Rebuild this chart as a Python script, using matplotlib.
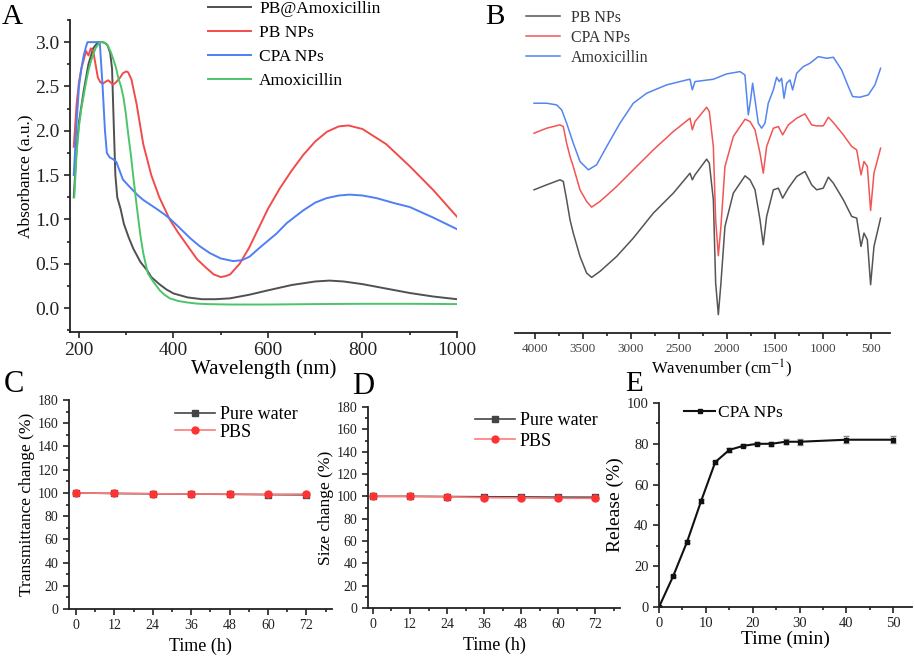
import matplotlib
matplotlib.use("Agg")
import matplotlib.pyplot as plt
from matplotlib.ticker import MultipleLocator

plt.rcParams['font.family'] = ['Liberation Serif', 'DejaVu Serif']
plt.rcParams['mathtext.fontset'] = 'stix'

# ---- A: UV-vis absorbance ----
wl_pbamox = [189, 195, 200, 210, 220, 230, 240, 250, 255, 260, 266, 270, 274, 277, 281, 288, 295, 305, 315, 330,
             345, 353, 370, 385, 400, 430, 460, 490, 520, 560, 600, 650, 700, 730, 760, 800, 850, 900, 950, 1000]
abs_pbamox = [1.25, 1.8, 2.1, 2.45, 2.75, 2.93, 3.0, 3.0, 2.99, 2.97, 2.88, 2.7, 2.0, 1.5, 1.25, 1.12, 0.95, 0.8, 0.67, 0.52,
              0.42, 0.35, 0.27, 0.21, 0.165, 0.12, 0.1, 0.1, 0.11, 0.15, 0.2, 0.26, 0.3, 0.31, 0.3, 0.27, 0.22, 0.17, 0.13, 0.1]

wl_pb = [189, 195, 200, 205, 210, 215, 220, 225, 230, 235, 240, 245, 250, 255, 262, 268, 272, 279, 287, 293,
         300, 304, 311, 322, 336, 353, 370, 392, 410, 430, 450, 470, 485, 500, 510, 520, 540, 560, 580, 600,
         625, 650, 675, 700, 725, 750, 770, 800, 850, 900, 950, 1000]
abs_pb = [1.82, 2.3, 2.55, 2.7, 2.8, 2.9, 2.85, 2.93, 2.9, 2.75, 2.6, 2.55, 2.53, 2.55, 2.57, 2.54, 2.52, 2.55, 2.6, 2.65,
          2.67, 2.66, 2.58, 2.3, 1.85, 1.5, 1.25, 1.0, 0.85, 0.7, 0.55, 0.45, 0.38, 0.35, 0.36, 0.38, 0.5, 0.68, 0.9, 1.12,
          1.35, 1.55, 1.73, 1.88, 1.99, 2.05, 2.06, 2.02, 1.85, 1.6, 1.33, 1.03]

wl_cpa = [189, 195, 200, 205, 210, 215, 218, 230, 244, 250, 255, 259, 265, 272, 279, 286, 293, 305, 314, 325,
          336, 350, 364, 380, 392, 410, 435, 455, 477, 500, 526, 545, 561, 580, 600, 618, 640, 674, 700, 724,
          750, 773, 800, 830, 870, 900, 950, 1000]
abs_cpa = [1.5, 2.1, 2.5, 2.7, 2.85, 2.95, 3.0, 3.0, 3.0, 2.5, 2.0, 1.75, 1.7, 1.68, 1.65, 1.55, 1.45, 1.38, 1.33, 1.27,
           1.22, 1.17, 1.12, 1.06, 1.01, 0.92, 0.79, 0.7, 0.62, 0.56, 0.53, 0.54, 0.58, 0.67, 0.76, 0.84, 0.96, 1.1, 1.19, 1.24,
           1.27, 1.28, 1.27, 1.24, 1.18, 1.14, 1.02, 0.89]

wl_amox = [190, 195, 200, 205, 210, 215, 220, 225, 230, 235, 240, 245, 250, 256, 262, 268, 273, 278, 283, 289,
           294, 299, 304, 310, 315, 320, 325, 330, 336, 341, 346, 352, 357, 364, 371, 381, 392, 410, 428, 450,
           470, 520, 600, 700, 800, 900, 1000]
abs_amox = [1.25, 1.75, 2.05, 2.25, 2.4, 2.55, 2.68, 2.78, 2.86, 2.93, 2.97, 3.0, 3.0, 2.99, 2.95, 2.88, 2.8, 2.72, 2.6, 2.5,
            2.38, 2.2, 1.97, 1.72, 1.48, 1.25, 1.03, 0.82, 0.62, 0.5, 0.39, 0.34, 0.3, 0.25, 0.2, 0.15, 0.11, 0.08, 0.064, 0.05,
            0.045, 0.04, 0.04, 0.045, 0.048, 0.048, 0.045]

# ---- B: FTIR (offset transmittance, a.u.) ----
wn_pb = [4010, 3878, 3740, 3705, 3670, 3635, 3601, 3531, 3462, 3410, 3323, 3149, 2976, 2767, 2559, 2385, 2361, 2333, 2212, 2184,
         2142, 2118, 2090, 2063, 2021, 1934, 1812, 1760, 1708, 1656, 1622, 1587, 1517, 1465, 1420, 1361, 1274, 1188, 1118, 1066,
         997, 944, 892, 788, 701, 649, 604, 573, 538, 504, 469, 400]
t_pb = [43.0, 44.5, 46.0, 45.5, 40.0, 34.0, 30.0, 23.0, 18.0, 16.7, 18.5, 23.0, 28.5, 36.0, 42.0, 48.0, 46.0, 47.5, 52.2, 51.0,
        40.0, 15.0, 5.5, 15.0, 32.0, 42.0, 47.2, 46.0, 43.0, 34.0, 26.5, 35.0, 43.0, 43.5, 40.5, 43.5, 47.0, 48.5, 44.5, 43.0,
        43.5, 46.8, 45.0, 40.0, 35.0, 34.5, 26.0, 30.0, 28.0, 14.5, 26.0, 34.5]
t_cpa = [60.0, 61.5, 62.5, 62.0, 57.0, 53.0, 50.0, 43.0, 39.5, 37.8, 39.5, 44.0, 49.0, 55.0, 60.5, 64.5, 61.0, 63.5, 67.8, 66.5,
         56.0, 34.0, 23.2, 32.0, 50.0, 59.0, 64.2, 63.5, 61.0, 54.0, 48.0, 56.0, 61.5, 62.0, 59.5, 62.5, 64.5, 65.8, 62.5, 62.2,
         62.2, 64.8, 63.2, 59.5, 56.0, 55.0, 47.5, 51.5, 50.0, 36.8, 48.0, 55.5]
wn_amox = [4010, 3878, 3774, 3722, 3670, 3601, 3531, 3444, 3358, 3253, 3115, 2976, 2837, 2629, 2420, 2385, 2361, 2333, 2142, 2004,
           1865, 1813, 1778, 1754, 1733, 1708, 1674, 1639, 1604, 1570, 1517, 1483, 1455, 1431, 1406, 1379, 1344, 1316, 1274, 1205,
           1136, 1049, 962, 892, 806, 736, 691, 615, 528, 459, 400]
t_amox = [69.0, 69.0, 68.5, 67.0, 63.0, 57.0, 51.5, 49.0, 50.5, 56.0, 63.0, 69.0, 72.0, 74.5, 76.0, 76.2, 73.0, 75.5, 76.2, 77.8,
          78.5, 77.5, 65.5, 70.0, 75.0, 70.0, 63.0, 61.5, 63.0, 69.0, 73.0, 76.8, 75.5, 76.5, 70.5, 75.0, 76.0, 73.0, 78.0, 80.0,
          81.0, 83.0, 82.5, 82.8, 79.0, 74.0, 71.0, 70.8, 71.5, 74.5, 79.5]

# ---- C, D: stability ----
time_h = [0, 12, 24, 36, 48, 60, 72]
trans_water = [100, 99.5, 99.2, 99.0, 98.8, 98.5, 98.3]
trans_pbs = [100, 99.6, 99.3, 99.0, 99.0, 98.8, 99.0]
size_water = [100, 100, 99.8, 99.6, 99.5, 99.3, 99.2]
size_pbs = [100, 100, 99.6, 98.8, 98.6, 98.3, 98.2]

# ---- E: release ----
time_min = [0, 3, 6, 9, 12, 15, 18, 21, 24, 27, 30, 40, 50]
release = [0, 15, 32, 52, 71, 77, 79, 80, 80, 81, 81, 82, 82]
release_err = [0.3, 0.5, 0.6, 0.8, 0.8, 0.8, 0.8, 0.8, 1.0, 1.2, 1.5, 1.8, 1.6]

fig = plt.figure(figsize=(9.15, 6.56), dpi=100)
W, H = 915.0, 656.0


def box(x0, y0, x1, y1):
    return [x0 / W, 1 - y1 / H, (x1 - x0) / W, (y1 - y0) / H]


def style(ax, fs, col='#222222'):
    ax.spines['top'].set_visible(False)
    ax.spines['right'].set_visible(False)
    ax.tick_params(which='both', direction='out', labelsize=fs, colors='#222222', labelcolor=col, width=1.2)
    ax.tick_params(which='major', length=4)
    ax.tick_params(which='minor', length=2.5)
    for s in ax.spines.values():
        s.set_linewidth(1.3)
        s.set_color('#222222')


# A
axA = fig.add_axes(box(70, 20, 457, 332))
axA.plot(wl_pbamox, abs_pbamox, color='#505050', lw=1.4, label='PB@Amoxicillin')
axA.plot(wl_pb, abs_pb, color='#f24b4b', lw=1.4, label='PB NPs')
axA.plot(wl_cpa, abs_cpa, color='#4f7ff5', lw=1.4, label='CPA NPs')
axA.plot(wl_amox, abs_amox, color='#4cc46a', lw=1.4, label='Amoxicillin')
axA.set_xlim(181, 1000)
axA.set_ylim(-0.27, 3.25)
axA.xaxis.set_major_locator(MultipleLocator(200))
axA.xaxis.set_minor_locator(MultipleLocator(100))
axA.yaxis.set_major_locator(MultipleLocator(0.5))
axA.yaxis.set_minor_locator(MultipleLocator(0.25))
axA.yaxis.set_major_formatter(plt.FormatStrFormatter('%.1f'))
style(axA, 14)
axA.set_xlabel('Wavelength (nm)', fontsize=15, labelpad=0)
axA.set_ylabel('Absorbance (a.u.)', fontsize=12.5, labelpad=1)
fig.legend(*axA.get_legend_handles_labels(), loc='upper left', bbox_to_anchor=(208 / W, 1 - 1 / H),
           frameon=False, fontsize=12.5, handlelength=2.5, handletextpad=0.45, labelspacing=0.45,
           borderpad=0, borderaxespad=0)

# B
axB = fig.add_axes(box(515, 0, 890, 333))
axB.plot(wn_pb, t_pb, color='#555555', lw=1.1, label='PB NPs')
axB.plot(wn_pb, t_cpa, color='#f25555', lw=1.1, label='CPA NPs')
axB.plot(wn_amox, t_amox, color='#5585f0', lw=1.1, label='Amoxicillin')
axB.set_xlim(4208, 302)
axB.set_ylim(0, 100)
axB.xaxis.set_major_locator(MultipleLocator(500))
axB.xaxis.set_minor_locator(MultipleLocator(250))
style(axB, 9.5, col='#444444')
axB.spines['left'].set_visible(False)
axB.set_yticks([])
axB.set_xlabel('Wavenumber (cm$^{-1}$)', fontsize=12, labelpad=2)
axB.xaxis.set_label_coords(0.55, -0.075)
fig.legend(*axB.get_legend_handles_labels(), loc='upper left', bbox_to_anchor=(526 / W, 1 - 10 / H),
           frameon=False, fontsize=11.5, handlelength=2.1, handletextpad=0.7, labelspacing=0.25,
           borderpad=0, borderaxespad=0, labelcolor='#333333')

# C
axC = fig.add_axes(box(69, 400, 332, 609))
axC.plot(time_h, trans_water, color='#444444', lw=1.2, marker='s', ms=4.5, label='Pure water')
axC.plot(time_h, trans_pbs, color='#ff7a7a', lw=1.2, marker='o', ms=5, mfc='#ff3333', mec='#ff3333', label='PBS')
axC.set_xlim(-2.2, 80)
axC.set_ylim(0, 180)
axC.set_xticks(time_h)
axC.xaxis.set_minor_locator(MultipleLocator(6))
axC.yaxis.set_major_locator(MultipleLocator(20))
axC.yaxis.set_minor_locator(MultipleLocator(10))
style(axC, 10)
axC.set_xlabel('Time (h)', fontsize=13, labelpad=4)
axC.set_ylabel('Transmittance change (%)', fontsize=12.5, labelpad=2)
axC.legend(loc='upper left', bbox_to_anchor=(0.37, 1.015), frameon=False, fontsize=13,
           handlelength=2.2, handletextpad=0.25, labelspacing=0.05, borderpad=0)

# D
axD = fig.add_axes(box(368, 407, 620, 608))
axD.plot(time_h, size_water, color='#444444', lw=1.2, marker='s', ms=4.5, label='Pure water')
axD.plot(time_h, size_pbs, color='#ff7a7a', lw=1.2, marker='o', ms=5, mfc='#ff3333', mec='#ff3333', label='PBS')
axD.set_xlim(-1.6, 80)
axD.set_ylim(0, 180)
axD.set_xticks(time_h)
axD.xaxis.set_minor_locator(MultipleLocator(6))
axD.yaxis.set_major_locator(MultipleLocator(20))
axD.yaxis.set_minor_locator(MultipleLocator(10))
style(axD, 10)
axD.set_xlabel('Time (h)', fontsize=13, labelpad=4)
axD.set_ylabel('Size change (%)', fontsize=12.5, labelpad=2)
axD.legend(loc='upper left', bbox_to_anchor=(0.39, 1.02), frameon=False, fontsize=13,
           handlelength=2.2, handletextpad=0.25, labelspacing=0.2, borderpad=0)

# E
axE = fig.add_axes(box(659, 403, 912, 607))
axE.errorbar(time_min, release, yerr=release_err, fmt='none', ecolor='#888888', elinewidth=0.8, capsize=2)
axE.plot(time_min, release, color='#111111', lw=1.5, marker='s', ms=2.5, label='CPA NPs')
axE.set_xlim(0, 54)
axE.set_ylim(0, 100)
axE.xaxis.set_major_locator(MultipleLocator(10))
axE.xaxis.set_minor_locator(MultipleLocator(5))
axE.yaxis.set_major_locator(MultipleLocator(20))
axE.yaxis.set_minor_locator(MultipleLocator(10))
style(axE, 10.5)
axE.set_xlabel('Time (min)', fontsize=14, labelpad=0)
axE.set_ylabel('Release (%)', fontsize=14, labelpad=2)
axE.legend(loc='upper left', bbox_to_anchor=(0.065, 1.035), frameon=False, fontsize=12.5,
           handlelength=1.8, handletextpad=0.15, borderpad=0)

# panel letters
for lab, x, y, fs in [('A', 2, 24, 21), ('B', 485, 24, 21), ('C', 4, 392, 22), ('D', 352, 394, 22), ('E', 625, 391, 21)]:
    fig.text(x / W, 1 - y / H, lab, fontsize=fs, ha='left', va='baseline')

fig.savefig('out.png', dpi=100)
